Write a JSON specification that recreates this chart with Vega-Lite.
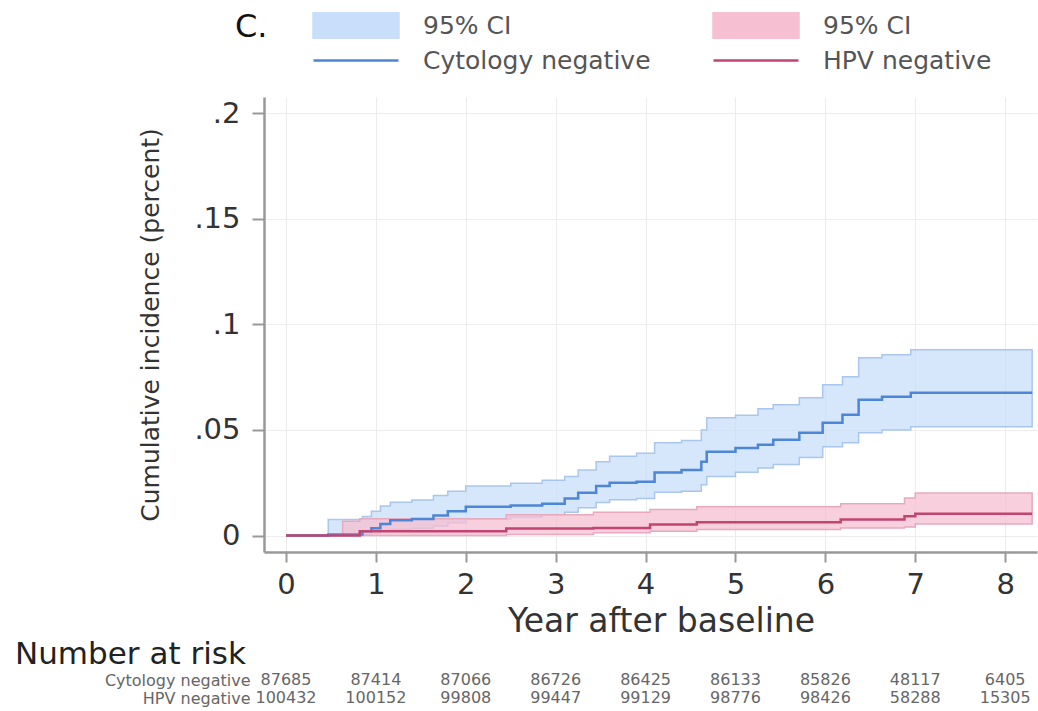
{
  "$schema": "https://vega.github.io/schema/vega-lite/v6.json",
  "padding": {"left": 15, "top": 12, "right": 0, "bottom": 0},
  "bounds": "flush",
  "spacing": 119,
  "config": {
    "font": "DejaVu Sans",
    "view": {"stroke": null},
    "axis": {"labelFont": "DejaVu Sans", "titleFont": "DejaVu Sans", "titleFontWeight": "normal"}
  },
  "datasets": {
    "km": [
      {"series": "Cytology negative", "band": "Cytology CI", "t": 0, "est": 0, "lo": 0, "hi": 0},
      {"series": "Cytology negative", "band": "Cytology CI", "t": 0.47, "est": 0.0005, "lo": 0.0, "hi": 0.0076},
      {"series": "Cytology negative", "band": "Cytology CI", "t": 0.85, "est": 0.002, "lo": 0.0005, "hi": 0.009},
      {"series": "Cytology negative", "band": "Cytology CI", "t": 0.95, "est": 0.0035, "lo": 0.001, "hi": 0.0115},
      {"series": "Cytology negative", "band": "Cytology CI", "t": 1.05, "est": 0.0055, "lo": 0.002, "hi": 0.014},
      {"series": "Cytology negative", "band": "Cytology CI", "t": 1.16, "est": 0.0072, "lo": 0.003, "hi": 0.0158},
      {"series": "Cytology negative", "band": "Cytology CI", "t": 1.4, "est": 0.0078, "lo": 0.0035, "hi": 0.0168},
      {"series": "Cytology negative", "band": "Cytology CI", "t": 1.64, "est": 0.0095, "lo": 0.0045, "hi": 0.019},
      {"series": "Cytology negative", "band": "Cytology CI", "t": 1.8, "est": 0.0115, "lo": 0.006, "hi": 0.021},
      {"series": "Cytology negative", "band": "Cytology CI", "t": 2.0, "est": 0.0136, "lo": 0.0078, "hi": 0.0235},
      {"series": "Cytology negative", "band": "Cytology CI", "t": 2.5, "est": 0.0142, "lo": 0.0088, "hi": 0.0248},
      {"series": "Cytology negative", "band": "Cytology CI", "t": 2.85, "est": 0.0151, "lo": 0.0098, "hi": 0.0262},
      {"series": "Cytology negative", "band": "Cytology CI", "t": 3.1, "est": 0.0175, "lo": 0.011, "hi": 0.028},
      {"series": "Cytology negative", "band": "Cytology CI", "t": 3.25, "est": 0.0203, "lo": 0.0132, "hi": 0.031},
      {"series": "Cytology negative", "band": "Cytology CI", "t": 3.45, "est": 0.0235, "lo": 0.0156, "hi": 0.035},
      {"series": "Cytology negative", "band": "Cytology CI", "t": 3.6, "est": 0.025, "lo": 0.017, "hi": 0.0375},
      {"series": "Cytology negative", "band": "Cytology CI", "t": 3.9, "est": 0.0255, "lo": 0.0175, "hi": 0.039},
      {"series": "Cytology negative", "band": "Cytology CI", "t": 4.1, "est": 0.0298, "lo": 0.0205, "hi": 0.044},
      {"series": "Cytology negative", "band": "Cytology CI", "t": 4.4, "est": 0.031, "lo": 0.021, "hi": 0.045},
      {"series": "Cytology negative", "band": "Cytology CI", "t": 4.62, "est": 0.035, "lo": 0.024, "hi": 0.05},
      {"series": "Cytology negative", "band": "Cytology CI", "t": 4.68, "est": 0.0397, "lo": 0.028, "hi": 0.0558},
      {"series": "Cytology negative", "band": "Cytology CI", "t": 5.0, "est": 0.0415, "lo": 0.03, "hi": 0.057},
      {"series": "Cytology negative", "band": "Cytology CI", "t": 5.25, "est": 0.043, "lo": 0.032, "hi": 0.06},
      {"series": "Cytology negative", "band": "Cytology CI", "t": 5.42, "est": 0.0454, "lo": 0.0336, "hi": 0.062},
      {"series": "Cytology negative", "band": "Cytology CI", "t": 5.71, "est": 0.0487, "lo": 0.0369, "hi": 0.0652},
      {"series": "Cytology negative", "band": "Cytology CI", "t": 5.97, "est": 0.0534, "lo": 0.042, "hi": 0.0714},
      {"series": "Cytology negative", "band": "Cytology CI", "t": 6.19, "est": 0.0572, "lo": 0.044, "hi": 0.0752},
      {"series": "Cytology negative", "band": "Cytology CI", "t": 6.37, "est": 0.0643, "lo": 0.0487, "hi": 0.0842},
      {"series": "Cytology negative", "band": "Cytology CI", "t": 6.63, "est": 0.0657, "lo": 0.05, "hi": 0.0856},
      {"series": "Cytology negative", "band": "Cytology CI", "t": 6.95, "est": 0.0676, "lo": 0.0515, "hi": 0.088},
      {"series": "Cytology negative", "band": "Cytology CI", "t": 8.3, "est": 0.0676, "lo": 0.0515, "hi": 0.088},
      {"series": "HPV negative", "band": "HPV CI", "t": 0, "est": 0, "lo": 0, "hi": 0},
      {"series": "HPV negative", "band": "HPV CI", "t": 0.63, "est": 0, "lo": 0, "hi": 0.0068},
      {"series": "HPV negative", "band": "HPV CI", "t": 0.82, "est": 0.002, "lo": 0, "hi": 0.008},
      {"series": "HPV negative", "band": "HPV CI", "t": 2.45, "est": 0.0033, "lo": 0.0005, "hi": 0.0099},
      {"series": "HPV negative", "band": "HPV CI", "t": 3.42, "est": 0.0036, "lo": 0.0013, "hi": 0.011},
      {"series": "HPV negative", "band": "HPV CI", "t": 4.05, "est": 0.0052, "lo": 0.002, "hi": 0.0123},
      {"series": "HPV negative", "band": "HPV CI", "t": 4.57, "est": 0.0063, "lo": 0.0028, "hi": 0.0136},
      {"series": "HPV negative", "band": "HPV CI", "t": 6.17, "est": 0.0076, "lo": 0.0036, "hi": 0.0151},
      {"series": "HPV negative", "band": "HPV CI", "t": 6.88, "est": 0.0091, "lo": 0.004, "hi": 0.0178},
      {"series": "HPV negative", "band": "HPV CI", "t": 7.0, "est": 0.0103, "lo": 0.0055, "hi": 0.0202},
      {"series": "HPV negative", "band": "HPV CI", "t": 8.3, "est": 0.0103, "lo": 0.0055, "hi": 0.0202}
    ],
    "risk": [
      {"group": "Cytology negative", "year": 0, "n": 87685},
      {"group": "Cytology negative", "year": 1, "n": 87414},
      {"group": "Cytology negative", "year": 2, "n": 87066},
      {"group": "Cytology negative", "year": 3, "n": 86726},
      {"group": "Cytology negative", "year": 4, "n": 86425},
      {"group": "Cytology negative", "year": 5, "n": 86133},
      {"group": "Cytology negative", "year": 6, "n": 85826},
      {"group": "Cytology negative", "year": 7, "n": 48117},
      {"group": "Cytology negative", "year": 8, "n": 6405},
      {"group": "HPV negative", "year": 0, "n": 100432},
      {"group": "HPV negative", "year": 1, "n": 100152},
      {"group": "HPV negative", "year": 2, "n": 99808},
      {"group": "HPV negative", "year": 3, "n": 99447},
      {"group": "HPV negative", "year": 4, "n": 99129},
      {"group": "HPV negative", "year": 5, "n": 98776},
      {"group": "HPV negative", "year": 6, "n": 98426},
      {"group": "HPV negative", "year": 7, "n": 58288},
      {"group": "HPV negative", "year": 8, "n": 15305}
    ]
  },
  "vconcat": [
    {
      "width": 773,
      "height": 455,
      "data": {"name": "km"},
      "layer": [
        {
          "mark": {"type": "area", "interpolate": "step-after", "fillOpacity": 0.75, "strokeWidth": 1.5},
          "encoding": {
            "x": {
              "field": "t", "type": "quantitative",
              "scale": {"domain": [-0.2447, 8.354], "nice": false, "zero": false},
              "axis": {
                "values": [0, 1, 2, 3, 4, 5, 6, 7, 8], "format": "d",
                "title": "Year after baseline", "titleFontSize": 33, "titleColor": "#333", "titlePadding": 6, "titleX": 397,
                "labelFontSize": 29, "labelColor": "#333", "labelPadding": 8,
                "tickSize": 10, "tickWidth": 2, "tickColor": "#999",
                "domainColor": "#999", "domainWidth": 2.5,
                "grid": true, "gridColor": "#ececec", "gridWidth": 1
              }
            },
            "y": {
              "field": "lo", "type": "quantitative",
              "scale": {"domain": [-0.0078, 0.2077], "nice": false, "zero": false},
              "axis": {
                "values": [0, 0.05, 0.1, 0.15, 0.2],
                "labelExpr": "datum.value == 0 ? '0' : replace(format(datum.value, '~g'), '0.', '.')",
                "title": "Cumulative incidence (percent)", "titleFontSize": 25, "titleColor": "#333", "titlePadding": 30,
                "labelFontSize": 29, "labelColor": "#333", "labelPadding": 12,
                "tickSize": 12, "tickWidth": 2, "tickColor": "#999",
                "domainColor": "#999", "domainWidth": 2.5,
                "grid": true, "gridColor": "#ececec", "gridWidth": 1
              }
            },
            "y2": {"field": "hi"},
            "color": {
              "field": "band", "type": "nominal",
              "scale": {
                "domain": ["Cytology CI", "HPV CI", "Cytology negative", "HPV negative"],
                "range": ["#c8defa", "#f6bfd2", "#4d86d6", "#c2456f"]
              },
              "legend": {
                "title": "C.", "titleOrient": "left", "titleAnchor": "start", "titleBaseline": "top",
                "titleFontSize": 32, "titleFont": "DejaVu Sans",
                "titleFontWeight": "normal", "titleColor": "#111", "titlePadding": 44,
                "orient": "none", "legendX": -29, "legendY": -85, "direction": "horizontal",
                "columns": 2, "columnPadding": 61, "rowPadding": 8,
                "symbolSize": 7225, "clipHeight": 27,
                "labelFontSize": 25, "labelFont": "DejaVu Sans", "labelColor": "#555",
                "labelOffset": 23, "labelLimit": 400, "padding": 0,
                "labelExpr": "indexof(datum.label, 'CI') >= 0 ? '95% CI' : datum.label",
                "encode": {
                  "symbols": {
                    "update": {
                      "shape": {"signal": "indexof(datum.value, 'CI') >= 0 ? 'M-1,-0.3176H1V0.3176H-1Z' : 'M-1,0H1'"},
                      "fill": {"signal": "datum.value == 'Cytology CI' ? '#d8e8fb' : datum.value == 'HPV CI' ? '#f9d2df' : 'transparent'"},
                      "stroke": {"signal": "datum.value == 'Cytology negative' ? '#86a9dc' : datum.value == 'HPV negative' ? '#c47995' : 'transparent'"},
                      "strokeWidth": {"value": 2.5},
                      "opacity": {"value": 1},
                      "fillOpacity": {"value": 1},
                      "strokeOpacity": {"value": 1},
                      "size": {"value": 7225}
                    }
                  }
                }
              }
            },
            "stroke": {
              "field": "band", "type": "nominal",
              "scale": {"domain": ["Cytology CI", "HPV CI"], "range": ["#a9c6ee", "#e6a9be"]},
              "legend": null
            }
          }
        },
        {
          "mark": {"type": "line", "interpolate": "step-after", "strokeWidth": 2.5},
          "encoding": {
            "x": {"field": "t", "type": "quantitative"},
            "y": {"field": "est", "type": "quantitative"},
            "color": {"field": "series", "type": "nominal"}
          }
        }
      ]
    },
    {
      "width": 773,
      "height": 36,
      "data": {"name": "risk"},
      "title": {
        "text": "Number at risk", "anchor": "start", "frame": "group", "dx": -249,
        "fontSize": 31, "fontWeight": "normal", "font": "DejaVu Sans", "color": "#222",
        "offset": -24, "baseline": "alphabetic"
      },
      "mark": {"type": "text", "fontSize": 16, "font": "DejaVu Sans", "color": "#666"},
      "encoding": {
        "x": {
          "field": "year", "type": "quantitative",
          "scale": {"domain": [-0.2447, 8.354], "nice": false, "zero": false},
          "axis": null
        },
        "y": {
          "field": "group", "type": "nominal",
          "sort": ["Cytology negative", "HPV negative"],
          "scale": {"paddingInner": 0, "paddingOuter": 0},
          "axis": {
            "title": null, "domain": false, "ticks": false, "grid": false,
            "labelFontSize": 16, "labelFont": "DejaVu Sans", "labelColor": "#666", "labelPadding": 14
          }
        },
        "text": {"field": "n", "type": "quantitative", "format": "d"}
      }
    }
  ]
}
